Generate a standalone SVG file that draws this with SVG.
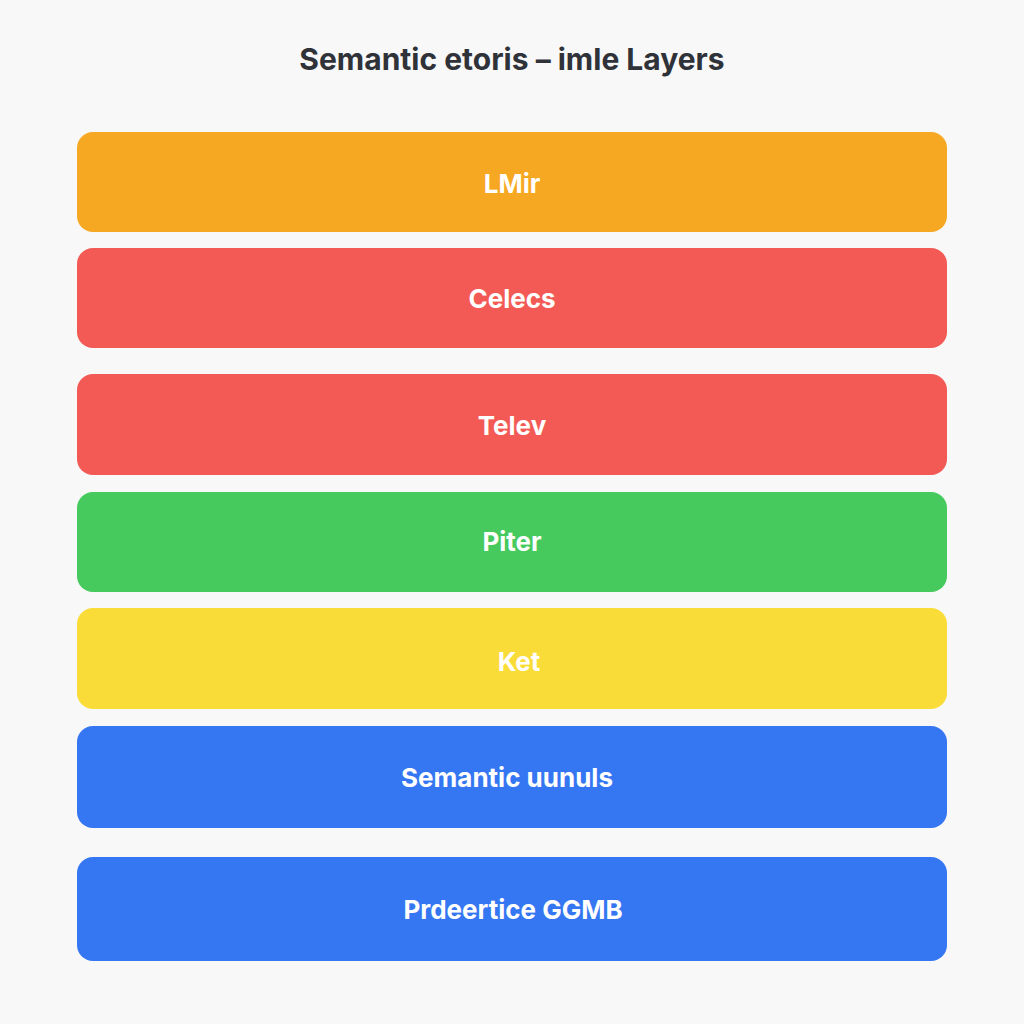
<svg xmlns="http://www.w3.org/2000/svg" width="1024" height="1024" viewBox="0 0 1024 1024">
<style>
.bar{rx:16;ry:16}
.lbl{font-family:"Inter","Liberation Sans",sans-serif;font-weight:700;font-size:26px;fill:#fff;text-anchor:middle;dominant-baseline:central}
.title{font-family:"Inter","Liberation Sans",sans-serif;font-weight:700;font-size:30px;fill:#2f3238;text-anchor:middle}
</style>
<rect width="1024" height="1024" fill="#f8f8f8"/>
<text class="title" x="512" y="70">Semantic etoris – imle Layers</text>
<g id="n1"><rect class="bar" x="77" y="132" width="870" height="100" fill="#f7a823"/><text class="lbl" x="512" y="183">LMir</text></g>
<g id="n2"><rect class="bar" x="77" y="248" width="870" height="100" fill="#f35a55"/><text class="lbl" x="512" y="298">Celecs</text></g>
<g id="n3"><rect class="bar" x="77" y="374" width="870" height="101" fill="#f35a55"/><text class="lbl" x="512" y="425">Telev</text></g>
<g id="n4"><rect class="bar" x="77" y="492" width="870" height="100" fill="#46c95d"/><text class="lbl" x="512" y="541">Piter</text></g>
<g id="n5"><rect class="bar" x="77" y="608" width="870" height="101" fill="#f9dc37"/><text class="lbl" x="519" y="661">Ket</text></g>
<g id="n6"><rect class="bar" x="77" y="726" width="870" height="102" fill="#3576f2"/><text class="lbl" x="507" y="777">Semantic uunuls</text></g>
<g id="n7"><rect class="bar" x="77" y="857" width="870" height="104" fill="#3576f2"/><text class="lbl" x="513" y="909">Prdeertice GGMB</text></g>
<g id="connectors"/>
</svg>
